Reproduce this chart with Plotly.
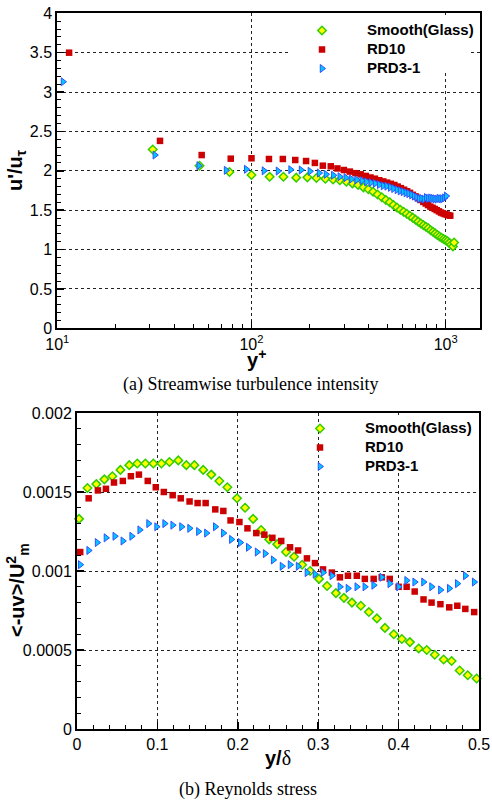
import plotly.graph_objects as go

# ---------------- (a) Streamwise turbulence intensity ----------------
smooth_yplus = [31, 54, 77, 100, 124, 146, 170, 194, 216, 240, 263, 285, 308, 331, 354, 377, 400, 423, 446, 469,
                492, 515, 538, 561, 584, 607, 630, 653, 676, 699, 722, 745, 768, 791, 814, 837, 860, 883, 906, 929,
                952, 975, 998, 1021, 1044, 1067, 1090, 1105]
smooth_u = [2.27, 2.065, 1.985, 1.947, 1.925, 1.925, 1.913, 1.917, 1.909, 1.90, 1.89, 1.88, 1.86, 1.84, 1.82, 1.79,
            1.765, 1.735, 1.70, 1.665, 1.63, 1.60, 1.565, 1.535, 1.505, 1.48, 1.455, 1.43, 1.405, 1.38, 1.355, 1.33,
            1.31, 1.29, 1.27, 1.245, 1.225, 1.205, 1.185, 1.165, 1.15, 1.135, 1.12, 1.105, 1.085, 1.06, 1.04, 1.09]

rd_yplus = [11.5, 33.8, 55.4, 78.2, 100, 123, 145, 168, 191, 212, 233, 256, 277, 299, 321, 343, 365, 388, 410, 432,
            455, 477, 499, 522, 544, 566, 588, 611, 633, 655, 678, 700, 722, 744, 767, 789, 811, 834, 856, 878,
            900, 923, 945, 967, 990, 1012, 1034, 1056]
rd_u = [3.50, 2.38, 2.20, 2.154, 2.159, 2.15, 2.15, 2.137, 2.124, 2.10, 2.065, 2.057, 2.03, 2.01, 1.99, 1.97, 1.955,
        1.935, 1.915, 1.90, 1.88, 1.865, 1.85, 1.835, 1.82, 1.80, 1.78, 1.76, 1.74, 1.72, 1.695, 1.675, 1.65, 1.63,
        1.605, 1.585, 1.565, 1.545, 1.53, 1.515, 1.50, 1.485, 1.47, 1.46, 1.45, 1.445, 1.435, 1.43]

prd_yplus = [10.7, 31.8, 53.5, 74, 94, 116, 137, 159, 180, 200, 223, 242, 264, 285, 306, 327, 348, 370, 391, 412,
             433, 455, 476, 497, 518, 539, 561, 582, 603, 624, 645, 667, 688, 709, 730, 751, 773, 794, 815, 836,
             857, 878, 900, 921, 942, 963, 985, 1006]
prd_u = [3.13, 2.20, 2.065, 2.006, 2.019, 2.00, 1.997, 2.014, 2.01, 1.994, 1.972, 1.955, 1.943, 1.925, 1.913, 1.895,
         1.885, 1.875, 1.86, 1.85, 1.84, 1.825, 1.81, 1.805, 1.79, 1.775, 1.76, 1.745, 1.735, 1.72, 1.71, 1.695,
         1.68, 1.665, 1.645, 1.65, 1.64, 1.66, 1.65, 1.655, 1.65, 1.645, 1.64, 1.65, 1.645, 1.645, 1.655, 1.68]

# ---------------- (b) Reynolds stress ----------------
smooth_yd = [0.0025, 0.013, 0.024, 0.034, 0.044, 0.054, 0.065, 0.075, 0.085, 0.095, 0.105, 0.115, 0.126, 0.136,
             0.146, 0.157, 0.167, 0.177, 0.187, 0.199, 0.209, 0.219, 0.229, 0.239, 0.249, 0.26, 0.27, 0.28, 0.29,
             0.301, 0.311, 0.322, 0.332, 0.342, 0.353, 0.363, 0.373, 0.383, 0.394, 0.404, 0.414, 0.425, 0.435,
             0.445, 0.456, 0.466, 0.476, 0.486, 0.497]
smooth_uv = [0.00133, 0.001525, 0.00155, 0.00158, 0.0016, 0.00164, 0.00167, 0.00168, 0.00168, 0.00168, 0.00168,
             0.00169, 0.0017, 0.00167, 0.00167, 0.00164, 0.00161, 0.00157, 0.00153, 0.00146, 0.0014, 0.00133,
             0.00126, 0.0012, 0.00117, 0.00112, 0.00109, 0.00104, 0.001, 0.00095, 0.000905, 0.00086, 0.00083,
             0.0008, 0.00078, 0.00074, 0.0007, 0.00064, 0.0006, 0.00057, 0.00055, 0.00051, 0.0005, 0.00047,
             0.00044, 0.00043, 0.00037, 0.00034, 0.00032]

rd_yd = [0.004, 0.0145, 0.026, 0.036, 0.046, 0.057, 0.067, 0.077, 0.088, 0.098, 0.108, 0.119, 0.129, 0.14, 0.15,
         0.16, 0.172, 0.182, 0.191, 0.202, 0.212, 0.223, 0.233, 0.243, 0.254, 0.265, 0.275, 0.286, 0.296, 0.306,
         0.317, 0.327, 0.337, 0.348, 0.358, 0.369, 0.379, 0.389, 0.4, 0.41, 0.42, 0.431, 0.441, 0.452, 0.463,
         0.473, 0.483, 0.494]
rd_uv = [0.00112, 0.00146, 0.00151, 0.00152, 0.00156, 0.00157, 0.0016, 0.00161, 0.00157, 0.00153, 0.0015, 0.00148,
         0.00146, 0.00144, 0.00143, 0.00143, 0.00139, 0.00138, 0.00132, 0.00131, 0.00127, 0.00124, 0.00123,
         0.00121, 0.00119, 0.00115, 0.00113, 0.00108, 0.00105, 0.00101, 0.00099, 0.00096, 0.00097, 0.00097,
         0.00095, 0.00095, 0.00096, 0.00095, 0.0009, 0.0009, 0.00087, 0.00082, 0.0008, 0.00079, 0.00077,
         0.00078, 0.00076, 0.00074]

prd_yd = [0.004, 0.0145, 0.025, 0.036, 0.047, 0.057, 0.068, 0.078, 0.089, 0.099, 0.109, 0.119, 0.13, 0.14, 0.151,
          0.161, 0.172, 0.182, 0.192, 0.203, 0.213, 0.224, 0.234, 0.244, 0.255, 0.265, 0.275, 0.286, 0.296, 0.306,
          0.317, 0.327, 0.337, 0.348, 0.358, 0.369, 0.379, 0.389, 0.4, 0.41, 0.42, 0.431, 0.441, 0.452, 0.463,
          0.473, 0.483, 0.494]
prd_uv = [0.00104, 0.00113, 0.00118, 0.00121, 0.00122, 0.00119, 0.00122, 0.00126, 0.0013, 0.00128, 0.0013,
          0.00129, 0.00128, 0.00127, 0.00125, 0.00124, 0.00128, 0.00124, 0.0012, 0.00118, 0.00115, 0.00112,
          0.00111, 0.00107, 0.00103, 0.00104, 0.00103, 0.00099, 0.00098, 0.00099, 0.00097, 0.0009, 0.00089,
          0.0009, 0.0009, 0.00091, 0.00096, 0.00092, 0.0009, 0.00094, 0.00093, 0.00093, 0.0009, 0.00088,
          0.00089, 0.00092, 0.00097, 0.00093]

series_names = ["Smooth(Glass)", "RD10", "PRD3-1"]

top_xticks = [10, 100, 1000]
top_xticktext = ["10<sup>1</sup>", "10<sup>2</sup>", "10<sup>3</sup>"]
top_xminor = [20, 30, 40, 50, 60, 70, 80, 90, 200, 300, 400, 500, 600, 700, 800, 900]
top_yticks = [0, 0.5, 1, 1.5, 2, 2.5, 3, 3.5, 4]
top_yticktext = ["0", "0.5", "1", "1.5", "2", "2.5", "3", "3.5", "4"]
bot_xticks = [0, 0.1, 0.2, 0.3, 0.4, 0.5]
bot_xticktext = ["0", "0.1", "0.2", "0.3", "0.4", "0.5"]
bot_yticks = [0, 0.0005, 0.001, 0.0015, 0.002]
bot_yticktext = ["0", "0.0005", "0.001", "0.0015", "0.002"]

W, H = 492, 803
SANS = "Liberation Sans, Arial, sans-serif"
SERIF = "Liberation Serif, Times New Roman, serif"

styles = [
    dict(symbol="diamond", size=6.5, color="#ffff00", line=dict(color="#33cc00", width=1.5)),
    dict(symbol="square", size=6.5, color="#cc0000", line=dict(color="#cc0000", width=0)),
    dict(symbol="triangle-right", size=7, color="#00c8ff", line=dict(color="#3050ff", width=1)),
]


def legname(n):
    return "<b><span style='font-size:15px'>" + n + "</span></b>"


fig = go.Figure()
top_data = [(smooth_yplus, smooth_u), (rd_yplus, rd_u), (prd_yplus, prd_u)]
bot_data = [(smooth_yd, smooth_uv), (rd_yd, rd_uv), (prd_yd, prd_uv)]
for (xs, ys), st, nm in zip(top_data, styles, series_names):
    fig.add_trace(go.Scatter(x=xs, y=ys, mode="markers", marker=st, name=legname(nm),
                             xaxis="x", yaxis="y", legend="legend", cliponaxis=False))
for (xs, ys), st, nm in zip(bot_data, styles, series_names):
    fig.add_trace(go.Scatter(x=xs, y=ys, mode="markers", marker=st, name=legname(nm),
                             xaxis="x2", yaxis="y2", legend="legend2", cliponaxis=False))


def px2x(p):
    return p / W


def px2y(p):
    return 1 - p / H


axcommon = dict(showline=True, linewidth=2, linecolor="black", mirror=True, ticks="inside", ticklen=7,
                tickwidth=1.5, tickcolor="black", showgrid=True, gridcolor="#222222", gridwidth=1,
                griddash="dot", zeroline=False, tickfont=dict(family=SANS, size=16, color="black"))

fig.update_layout(
    width=W, height=H,
    margin=dict(l=0, r=0, t=0, b=0, autoexpand=False),
    paper_bgcolor="white", plot_bgcolor="white",
    xaxis=dict(type="log", range=[1, 3.1767], domain=[px2x(57.3), px2x(480)], anchor="y",
               tickmode="array", tickvals=top_xticks, ticktext=top_xticktext,
               minor=dict(tickmode="array", tickvals=top_xminor, ticks="inside", ticklen=4,
                          tickcolor="black", tickwidth=1, showgrid=False),
               **axcommon),
    yaxis=dict(range=[0, 4], domain=[px2y(328.3), px2y(13.3)], anchor="x",
               tickmode="array", tickvals=top_yticks, ticktext=top_yticktext,
               minor=dict(dtick=0.1, ticks="inside", ticklen=4, tickcolor="black", tickwidth=1,
                          showgrid=False),
               **axcommon),
    xaxis2=dict(range=[0, 0.5], domain=[px2x(77), px2x(479)], anchor="y2",
                tickmode="array", tickvals=bot_xticks, ticktext=bot_xticktext,
                minor=dict(dtick=0.02, ticks="inside", ticklen=4, tickcolor="black", tickwidth=1,
                           showgrid=False),
                **axcommon),
    yaxis2=dict(range=[0, 0.002], domain=[px2y(729), px2y(413)], anchor="x2",
                tickmode="array", tickvals=bot_yticks, ticktext=bot_yticktext,
                minor=dict(dtick=0.0001, ticks="inside", ticklen=4, tickcolor="black", tickwidth=1,
                           showgrid=False),
                **axcommon),
    legend=dict(x=px2x(277), y=px2y(16), xanchor="left", yanchor="top", bgcolor="rgba(0,0,0,0)",
                borderwidth=0, itemwidth=80, font=dict(family=SANS, size=12, color="black")),
    legend2=dict(x=px2x(275), y=px2y(414), xanchor="left", yanchor="top", bgcolor="rgba(0,0,0,0)",
                 borderwidth=0, itemwidth=80, font=dict(family=SANS, size=12, color="black")),
    showlegend=True,
)

# white backgrounds behind the legends (cover grid lines); no data lies in these areas
fig.add_shape(type="rect", xref="paper", yref="paper", x0=px2x(288), x1=px2x(471), y0=px2y(72), y1=px2y(15),
              fillcolor="white", line=dict(width=0), layer="above")
fig.add_shape(type="rect", xref="paper", yref="paper", x0=px2x(321), x1=px2x(471), y0=px2y(472), y1=px2y(415),
              fillcolor="white", line=dict(width=0), layer="above")

ann = [
    dict(text="<b>u'/u<sub>τ</sub></b>", x=px2x(17), y=px2y(170), textangle=-90,
         font=dict(family=SANS, size=20, color="black")),
    dict(text="<b>y<sup>+</sup></b>", x=px2x(256), y=px2y(358),
         font=dict(family=SANS, size=20, color="black")),
    dict(text="(a) Streamwise turbulence intensity", x=px2x(250), y=px2y(384),
         font=dict(family=SERIF, size=18, color="black")),
    dict(text="<b>&lt;-uv&gt;/U<sup>2</sup><sub>m</sub></b>", x=px2x(17), y=px2y(590), textangle=-90,
         font=dict(family=SANS, size=20, color="black")),
    dict(text="<b>y/</b><span style='font-family:Liberation Serif'>δ</span>", x=px2x(278), y=px2y(758),
         font=dict(family=SANS, size=20, color="black")),
    dict(text="(b) Reynolds stress", x=px2x(248), y=px2y(789),
         font=dict(family=SERIF, size=18, color="black")),
]
for a in ann:
    fig.add_annotation(xref="paper", yref="paper", showarrow=False, xanchor="center", yanchor="middle", **a)

fig.write_html("out.html", config={"displayModeBar": False, "staticPlot": True},
               post_script="document.body.style.margin='0';document.body.style.overflow='hidden';")
